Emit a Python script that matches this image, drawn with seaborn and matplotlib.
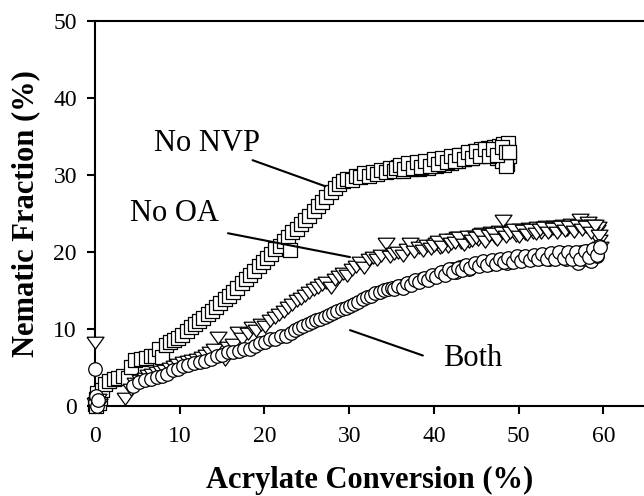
import matplotlib
matplotlib.use("Agg")
import matplotlib.pyplot as plt
import seaborn as sns
import pandas as pd

# ---------------- data ----------------
nvp_x = [0.0, 0.1, 0.2, 0.3, 0.1, 0.4, 0.2, 0.5, 0.6,
         0.8, 1.2, 1.6, 2.2, 2.7, 3.3, 3.9, 4.3, 4.7, 5.4, 6.0, 6.6, 7.1, 7.6, 7.9,
         8.4, 8.9, 9.3, 9.8, 10.3, 10.8, 11.3, 11.8, 12.3, 12.8, 13.3, 13.8, 14.3,
         14.8, 15.3, 15.8, 16.3, 16.8, 17.3, 17.8, 18.3, 18.8, 19.3, 19.8, 20.3,
         20.8, 21.3, 21.8, 22.3, 22.8, 23.0, 23.3, 23.8, 24.3, 24.8, 25.3, 25.8,
         26.3, 26.8, 27.3, 27.8, 28.3, 28.8, 29.3, 29.8, 30.3, 30.8, 31.3, 31.8,
         32.3, 32.8, 33.3, 33.8, 34.3, 34.8, 35.3, 35.8, 36.3, 36.8, 37.3, 37.8,
         38.3, 38.8, 39.3, 39.8, 40.3, 40.8, 41.2, 41.6, 42.0, 42.4, 42.8, 43.2,
         43.6, 44.0, 44.4, 44.8, 45.2, 45.6, 46.0, 46.4, 46.8, 47.1, 47.4, 47.7,
         48.0, 48.2, 48.4, 48.6, 48.8, 48.9, 48.7, 48.5,
         35.5, 36.0, 36.5, 37.0, 37.5, 38.0, 38.5, 39.0, 39.5, 40.0, 40.5, 41.0,
         41.5, 42.0, 42.5, 43.0, 43.5, 44.0, 44.5, 45.0, 45.5, 46.0, 46.5, 47.0,
         47.5, 48.0, 48.5, 48.9]
nvp_y = [0.2, 0.8, 0.4, 1.2, 0.0, 0.6, 1.6, 0.3, 1.0,
         2.0, 2.8, 3.2, 3.4, 3.6, 3.8, 3.6, 5.0, 5.9, 6.1, 6.2, 6.4, 6.5, 7.4, 6.3,
         7.9, 8.2, 8.5, 8.8, 9.2, 9.7, 10.2, 10.6, 11.0, 11.4, 11.9, 12.3, 12.8,
         13.3, 13.8, 14.3, 14.8, 15.3, 15.9, 16.4, 17.0, 17.5, 18.1, 18.6, 19.2,
         19.7, 20.3, 20.8, 21.4, 21.9, 20.2, 22.5, 23.0, 23.6, 24.1, 24.7, 25.3,
         25.9, 26.5, 27.1, 27.7, 28.3, 28.8, 29.2, 29.5, 29.3, 29.9, 29.7, 30.2,
         29.9, 30.4, 30.1, 30.6, 30.3, 30.9, 30.5, 31.0, 30.5, 31.2, 30.8, 31.0,
         30.7, 31.3, 30.9, 31.6, 31.2, 31.8, 31.3, 32.1, 31.5, 32.3, 31.8, 32.6,
         32.0, 32.8, 32.2, 33.1, 32.4, 33.3, 32.6, 33.5, 32.7, 33.6, 32.2, 33.8,
         31.8, 34.0, 32.8, 31.4, 33.4, 32.4, 34.2, 31.1,
         30.9, 31.3, 30.7, 31.5, 30.9, 31.6, 31.0, 31.8, 31.2, 32.0, 31.4, 32.2,
         31.6, 32.4, 31.8, 32.6, 32.0, 32.9, 32.2, 33.1, 32.4, 33.3, 32.5, 33.4,
         32.6, 33.6, 32.9, 33.0]

oa_x = [0.0, 0.2, 0.3, 0.5, 0.0,
        3.5, 4.2, 4.7, 5.3, 5.9, 6.3, 6.7, 7.3, 7.8, 8.3, 8.8, 9.3, 9.8, 10.4,
        11.0, 11.5, 12.0, 12.6, 13.1, 13.6, 14.1, 14.5, 15.3, 15.7, 16.3, 16.9,
        17.4, 18.0, 18.5, 19.0, 19.6, 20.1, 20.6, 21.2, 21.7, 22.3, 22.8, 23.3,
        23.8, 24.3, 24.8, 25.3, 25.8, 26.3, 26.8, 27.3, 27.8, 28.3, 28.8, 29.3,
        29.8, 30.3, 30.8, 31.3, 31.8, 32.3, 32.8, 33.3, 33.8, 34.3, 34.8, 35.3,
        35.8, 36.3, 36.8, 37.2, 37.7, 38.2, 38.7, 39.2, 39.7, 40.2, 40.7, 41.2,
        41.7, 42.2, 42.7, 43.2, 43.7, 44.2, 44.7, 45.2, 45.7, 46.2, 46.7, 47.2,
        47.7, 48.2, 48.7, 49.2, 49.7, 50.2, 50.7, 51.2, 51.7, 52.2, 52.7, 53.2,
        53.7, 54.2, 54.7, 55.2, 55.7, 56.2, 56.7, 57.2, 57.7, 58.2, 58.7, 59.2,
        59.5, 59.6, 59.4,
        40.0, 40.5, 41.0, 41.5, 42.0, 42.5, 43.0, 43.5, 44.0, 44.5, 45.0, 45.5,
        46.0, 46.5, 47.0, 47.5, 48.0, 48.5, 49.0, 49.5, 50.0, 50.5, 51.0, 51.5,
        52.0, 52.5, 53.0, 53.5, 54.0, 54.5, 55.0, 55.5, 56.0, 56.5, 57.0, 57.5,
        58.0, 58.5, 59.0, 59.5]
oa_y = [0.3, 0.0, 0.9, 0.2, 8.3,
        1.0, 2.2, 2.9, 3.3, 3.6, 4.0, 4.1, 4.3, 4.5, 4.6, 4.9, 5.1, 5.4, 5.6,
        5.8, 5.9, 6.1, 6.3, 6.6, 7.0, 7.3, 8.9, 6.1, 7.6, 8.0, 9.5,
        8.8, 9.4, 10.2, 9.8, 10.6, 10.3, 11.1, 11.5, 11.9, 12.3, 12.8, 13.2,
        13.7, 14.0, 14.4, 14.8, 15.1, 15.4, 15.8, 16.0, 15.4, 16.5, 16.8, 17.2,
        17.0, 17.8, 18.2, 18.6, 18.0, 19.0, 19.3, 19.0, 19.6, 21.1, 19.5, 19.8,
        20.0, 19.6, 20.3, 21.1, 20.1, 20.6, 20.2, 20.9, 20.5, 21.1, 20.6, 21.3,
        20.8, 21.6, 21.9, 21.2, 21.8, 21.4, 22.1, 21.6, 22.4, 21.8, 22.5, 21.9,
        22.7, 24.1, 22.4, 22.8, 22.2, 23.0, 22.4, 23.1, 22.5, 23.2, 22.6, 23.3,
        22.8, 23.4, 22.9, 23.5, 23.0, 23.6, 23.1, 24.2, 23.3, 23.8, 23.5, 22.8,
        21.5, 20.6, 23.2,
        20.9, 21.4, 20.7, 21.6, 21.1, 21.3, 21.9, 21.0, 22.0, 21.5, 21.9, 22.3,
        21.4, 22.2, 22.4, 21.7, 22.6, 22.0, 22.5, 22.9, 22.1, 22.8, 22.3, 23.0,
        22.4, 22.9, 23.2, 22.5, 23.1, 22.6, 23.3, 22.8, 23.4, 22.7, 23.5, 22.9,
        23.4, 22.6, 23.5, 22.2]

both_x = [0.0, 0.1, 0.2, 0.4, 0.0,
          4.5, 5.2, 5.9, 6.6, 7.3, 7.9, 8.5, 9.2, 9.8, 10.4, 11.0, 11.7, 12.4,
          13.0, 13.7, 14.4, 15.0, 15.7, 16.3, 17.0, 17.6, 18.3, 18.9, 19.5, 20.1,
          20.7, 21.3, 21.9, 22.5, 23.1, 23.6, 24.1, 24.6, 25.1, 25.6, 26.1, 26.6,
          27.1, 27.6, 28.1, 28.6, 29.1, 29.6, 30.1, 30.6, 31.1, 31.6, 32.1, 32.6,
          33.1, 33.6, 34.1, 34.6, 35.1, 35.6, 36.1, 36.6, 37.1, 37.6, 38.1, 38.6,
          39.1, 39.6, 40.1, 40.6, 41.1, 41.6, 42.1, 42.6, 43.1, 43.6, 44.1, 44.6,
          45.1, 45.6, 46.1, 46.6, 47.1, 47.6, 48.1, 48.6, 49.1, 49.6, 50.1, 50.6,
          51.1, 51.6, 52.1, 52.6, 53.1, 53.6, 54.1, 54.6, 55.1, 55.6, 56.1, 56.6,
          57.0, 57.4, 57.8, 58.2, 58.6, 59.0, 59.3, 59.5,
          35.3, 35.8, 36.3, 36.8, 37.3, 37.8, 38.3, 38.8, 39.3, 39.8, 40.3, 40.8,
          41.3, 41.8, 42.3, 42.8, 43.3, 43.8, 44.3, 44.8, 45.3, 45.8, 46.3, 46.8,
          47.3, 47.8, 48.3, 48.8, 49.3, 49.8, 50.3, 50.8, 51.3, 51.8, 52.3, 52.8,
          53.3, 53.8, 54.3, 54.8, 55.3, 55.8, 56.3, 56.8, 57.3, 57.8, 58.3, 58.8,
          59.3, 59.6]
both_y = [0.5, 1.2, 0.0, 0.7, 4.8,
          2.6, 3.0, 3.3, 3.5, 3.7, 3.9, 4.1, 4.6, 4.8, 5.1, 5.3, 5.5, 5.6,
          5.8, 6.1, 6.5, 6.6, 6.9, 7.0, 7.1, 7.3, 7.4, 7.8, 8.1, 8.3,
          8.6, 8.7, 9.0, 9.1, 9.4, 9.8, 10.1, 10.4, 10.6, 10.8, 11.1, 11.3,
          11.5, 11.8, 12.0, 12.3, 12.5, 12.7, 12.9, 13.2, 13.5, 13.8, 14.1, 14.3,
          14.6, 14.8, 15.0, 15.1, 15.3, 15.4, 15.6, 15.7, 15.9, 16.0, 16.2, 16.4,
          16.5, 16.7, 16.9, 17.1, 17.3, 17.5, 17.7, 17.3, 18.0, 18.1, 17.8, 18.3,
          18.4, 18.5, 18.6, 18.4, 18.8, 18.9, 18.7, 18.5, 19.0, 19.1, 18.9, 19.2,
          19.3, 19.0, 19.4, 19.2, 19.6, 19.1, 19.7, 19.3, 19.8, 19.0, 19.8, 19.4,
          18.5, 19.9, 19.0, 20.1, 18.8, 20.3, 19.5, 20.8,
          15.1, 15.6, 15.3, 15.9, 15.7, 16.3, 16.0, 16.6, 16.3, 17.0, 16.7, 17.4,
          17.0, 17.7, 17.4, 17.9, 17.6, 18.3, 17.9, 18.5, 18.1, 18.8, 18.3, 18.9,
          18.4, 19.1, 18.6, 19.2, 18.6, 19.4, 18.8, 19.5, 18.9, 19.6, 19.0, 19.7,
          19.0, 19.8, 19.1, 19.9, 19.2, 20.0, 19.1, 19.9, 19.0, 20.1, 19.3, 20.3,
          19.6, 20.6]

labels = ["No NVP", "No OA", "Both"]
label_text_xy = [(13.2, 34.1), (9.4, 25.0), (44.6, 6.1)]
label_line_from = [(18.6, 31.9), (15.7, 22.4), (30.1, 9.8)]
label_line_to = [(27.2, 28.5), (30.1, 19.3), (38.7, 6.5)]

# ---------------- build ----------------
sns.set_theme(style="ticks")
plt.rcParams['font.family'] = ['Liberation Serif', 'DejaVu Serif']
plt.rcParams['axes.linewidth'] = 1.5

df = pd.concat([
    pd.DataFrame({"x": nvp_x, "y": nvp_y, "series": "No NVP"}),
    pd.DataFrame({"x": oa_x, "y": oa_y, "series": "No OA"}),
    pd.DataFrame({"x": both_x, "y": both_y, "series": "Both"}),
], ignore_index=True)

fig = plt.figure(figsize=(6.44, 4.96), dpi=100)
ax = fig.add_axes([95 / 644, (496 - 405.5) / 496, 549 / 644, 384.5 / 496])

# wide, flat downward triangle like the reference
tri = [(-1.0, 0.62), (1.0, 0.62), (0.0, -0.78), (-1.0, 0.62)]
markers = {"No NVP": "s", "No OA": tri, "Both": "o"}
sizes = {"No NVP": 105, "No OA": 150, "Both": 95}
for name in ["No NVP", "No OA", "Both"]:
    sns.scatterplot(data=df[df.series == name], x="x", y="y", marker=markers[name],
                    s=sizes[name], color="white", edgecolor="black", linewidth=0.9,
                    ax=ax, legend=False, clip_on=False, zorder=3)

for lab, txy, p0, p1 in zip(labels, label_text_xy, label_line_from, label_line_to):
    ax.text(txy[0], txy[1], lab, ha="center", va="center", fontsize=22, color="black")
    ax.plot([p0[0], p1[0]], [p0[1], p1[1]], color="black", lw=1.5, zorder=4)

ax.set_xlim(0, 64.8)
ax.set_ylim(0, 50)
ax.set_xticks(range(0, 61, 10))
ax.set_yticks(range(0, 51, 10))
ax.tick_params(axis="both", direction="out", length=6, width=1.5,
               labelsize=17, colors="black")
ax.tick_params(axis="x", pad=9)
ax.tick_params(axis="y", pad=7)
for s in ["left", "bottom", "top"]:
    ax.spines[s].set_color("black")
    ax.spines[s].set_linewidth(1.5)
ax.spines["right"].set_visible(False)

ax.set_xlabel("Acrylate Conversion (%)", fontsize=22, fontweight="bold", color="black")
ax.set_ylabel("Nematic Fraction (%)", fontsize=22, fontweight="bold", color="black")
ax.xaxis.set_label_coords(0.5, -0.157)
ax.yaxis.set_label_coords(-0.10, 0.5)

fig.savefig("out.png", dpi=100)
